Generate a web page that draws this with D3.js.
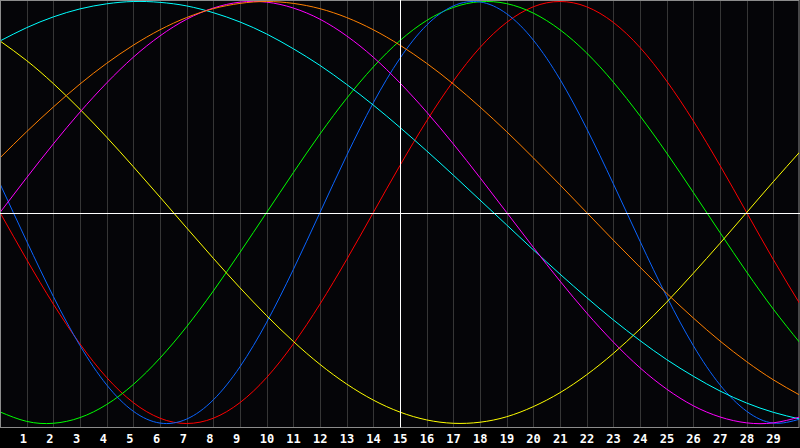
<!DOCTYPE html>
<html>
<head>
<meta charset="utf-8">
<script src="https://cdn.jsdelivr.net/npm/d3@7"></script>
<style>
html,body{margin:0;padding:0;background:#000;}
svg{display:block;}
</style>
</head>
<body>
<svg id="chart" width="800" height="448"></svg>
<script>
// Days shown on the axis
const days = d3.range(1, 30);
const dayLabels = days.map(String);
// Sample days at which values were read (0..30)
const sampleDays = d3.range(0, 31);

// Cycle values, one per sample day (range -1..1)
const physical = [0.136,-0.136,-0.398,-0.631,-0.817,-0.942,-0.998,-0.979,-0.888,-0.731,-0.520,-0.270,0,0.270,0.520,0.731,0.888,0.979,0.998,0.942,0.817,0.631,0.398,0.136,-0.136,-0.398,-0.631,-0.817,-0.942,-0.998,-0.979];
const emotional = [0,-0.223,-0.434,-0.623,-0.782,-0.901,-0.975,-1,-0.975,-0.901,-0.782,-0.623,-0.434,-0.223,0,0.223,0.434,0.623,0.782,0.901,0.975,1,0.975,0.901,0.782,0.623,0.434,0.223,0,-0.223,-0.434];
const intellectual = [-0.945,-0.990,-0.999,-0.972,-0.910,-0.815,-0.690,-0.541,-0.372,-0.189,0,0.189,0.372,0.541,0.690,0.815,0.910,0.972,0.999,0.990,0.945,0.866,0.756,0.618,0.458,0.282,0.095,-0.095,-0.282,-0.458,-0.618];
const intuitive = [0,0.165,0.325,0.476,0.614,0.736,0.837,0.916,0.969,0.997,0.997,0.969,0.916,0.837,0.736,0.614,0.476,0.325,0.165,0,-0.165,-0.325,-0.476,-0.614,-0.736,-0.837,-0.916,-0.969,-0.997,-0.997,-0.969];
const aesthetic = [0.813,0.720,0.611,0.489,0.357,0.217,0.073,-0.073,-0.217,-0.357,-0.489,-0.611,-0.720,-0.813,-0.889,-0.946,-0.983,-0.999,-0.994,-0.968,-0.920,-0.854,-0.769,-0.668,-0.552,-0.425,-0.288,-0.146,0,0.146,0.288];
const awareness = [0.259,0.383,0.500,0.609,0.707,0.793,0.866,0.924,0.966,0.991,1,0.991,0.966,0.924,0.866,0.793,0.707,0.609,0.500,0.383,0.259,0.131,0,-0.131,-0.259,-0.383,-0.500,-0.609,-0.707,-0.793,-0.866];
const spiritual = [0.813,0.876,0.927,0.965,0.989,1,0.996,0.979,0.947,0.903,0.846,0.776,0.697,0.607,0.509,0.403,0.292,0.177,0.059,-0.059,-0.177,-0.292,-0.403,-0.509,-0.607,-0.697,-0.776,-0.846,-0.903,-0.947,-0.979];

const seriesNames = ["emotional","intellectual","physical","aesthetic","spiritual","intuitive","awareness"];
const seriesValues = [emotional, intellectual, physical, aesthetic, spiritual, intuitive, awareness];
const seriesColors = ["#ff0000","#00ff00","#0a64ff","#ffff00","#00ffff","#ff00ff","#ff8000"];
const todayDay = 15;

const W = 800, H = 448;
const plotBottom = 427.5;
const svg = d3.select("#chart");

const x = d3.scaleLinear().domain([0, 30]).range([0, 800]);
const y = d3.scaleLinear().domain([-1, 1]).range([423.5, 1.5]);

svg.append("rect").attr("x",0).attr("y",0).attr("width",W).attr("height",H).attr("fill","#000");
svg.append("rect").attr("x",0.5).attr("y",0.5).attr("width",798.5).attr("height",plotBottom-0.5)
  .attr("fill","#050508").attr("stroke","#8c8c8c").attr("stroke-width",1);

// vertical day grid
svg.append("g").selectAll("line").data(days.filter(d => d !== todayDay)).join("line")
  .attr("x1", d => Math.round(x(d)) + 0.5).attr("x2", d => Math.round(x(d)) + 0.5)
  .attr("y1", 1).attr("y2", plotBottom - 0.5)
  .attr("stroke", "#363636").attr("stroke-width", 1);

// curves
const line = d3.line()
  .x((v, i) => x(sampleDays[i]))
  .y(v => y(v))
  .curve(d3.curveNatural);

svg.append("clipPath").attr("id","clip").append("rect").attr("x",1).attr("y",1).attr("width",798).attr("height",plotBottom-1.5);
const cg = svg.append("g").attr("clip-path", "url(#clip)");
seriesValues.forEach((vals, k) => {
  cg.append("path").datum(vals)
    .attr("d", line)
    .attr("fill", "none")
    .attr("stroke", seriesColors[k])
    .attr("stroke-width", 1)
    .attr("class", seriesNames[k]);
});

// center horizontal and today vertical lines
svg.append("line").attr("x1",0).attr("x2",W).attr("y1",Math.round(y(0))+0.5).attr("y2",Math.round(y(0))+0.5)
  .attr("stroke","#ffffff").attr("stroke-width",1);
svg.append("line").attr("x1",Math.round(x(todayDay))+0.5).attr("x2",Math.round(x(todayDay))+0.5).attr("y1",0).attr("y2",plotBottom)
  .attr("stroke","#ffffff").attr("stroke-width",1);

// bottom axis labels
const axis = d3.axisBottom(x).tickValues(days).tickFormat((d,i) => dayLabels[i]).tickSize(0);
const ag = svg.append("g").attr("transform", `translate(0,${plotBottom})`).call(axis);
ag.select(".domain").remove();
ag.selectAll("text")
  .attr("fill","#ffffff")
  .attr("font-family","'DejaVu Sans Mono', monospace")
  .attr("font-weight","bold")
  .attr("font-size","12px")
  .attr("text-anchor","start")
  .attr("x",-7.5)
  .attr("y",15.5)
  .attr("dy",0);
</script>
</body>
</html>
